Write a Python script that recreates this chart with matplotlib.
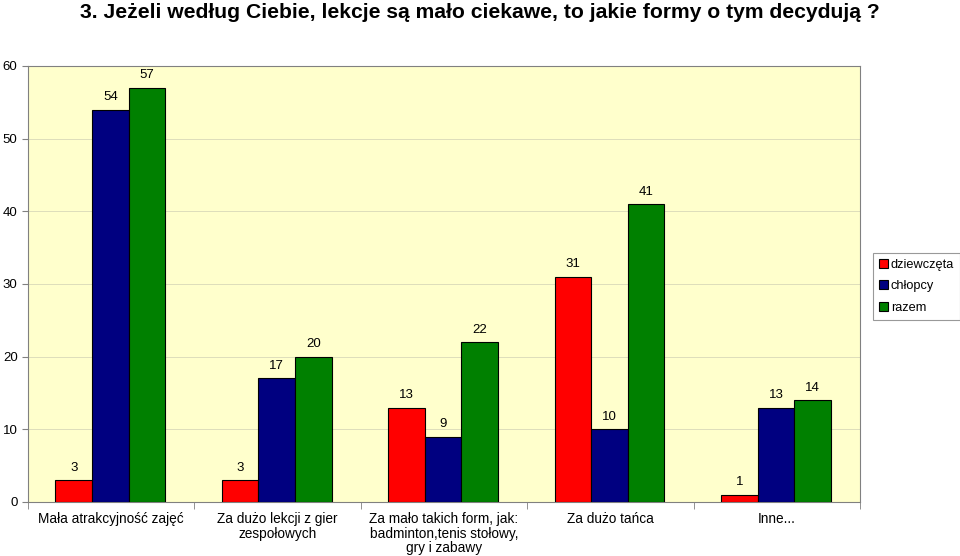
import matplotlib
matplotlib.use("Agg")
import matplotlib.pyplot as plt
import numpy as np

categories = ["Mała atrakcyjność zajęć", "Za dużo lekcji z gier\nzespołowych",
              "Za mało takich form, jak:\nbadminton,tenis stołowy,\ngry i zabawy",
              "Za dużo tańca", "Inne..."]
series_names = ["dziewczęta", "chłopcy", "razem"]
dziewczeta = [3, 3, 13, 31, 1]
chlopcy = [54, 17, 9, 10, 13]
razem = [57, 20, 22, 41, 14]
colors = ["#FF0000", "#000080", "#008000"]

plt.rcParams['font.family'] = ['Liberation Sans', 'DejaVu Sans']

fig = plt.figure(figsize=(9.6, 5.56), dpi=100)
ax = fig.add_axes([28/960, 1-502/556, (860-28)/960, (502-66)/556])
ax.set_facecolor("#FFFFCC")

x = np.arange(len(categories))
w = 0.22
for i, (vals, name, c) in enumerate(zip([dziewczeta, chlopcy, razem], series_names, colors)):
    pos = x + (i - 1) * w - 0.005
    ax.bar(pos, vals, w, color=c, edgecolor="black", linewidth=0.8, label=name, zorder=3)
    for p, v in zip(pos, vals):
        ax.text(p, v + 0.9, str(v), ha="center", va="bottom", fontsize=9.5)

ax.set_xlim(-0.5, len(categories) - 0.5)
ax.set_ylim(0, 60)
ax.set_yticks(range(0, 61, 10))
ax.yaxis.grid(True, color="#D8D8B8", linewidth=0.6, zorder=0)
ax.set_axisbelow(True)
ax.tick_params(axis="y", labelsize=9.5, direction="out", length=4, color="#808080")
ax.set_xticks(x)
ax.set_xticklabels(categories, fontsize=9.8, linespacing=1.08, va="top")
ax.tick_params(axis="x", length=0, pad=7)
ax.set_xticks(np.arange(-0.5, len(categories), 1), minor=True)
ax.tick_params(axis="x", which="minor", length=5, direction="out", color="#808080")
for s in ["top", "right", "left", "bottom"]:
    ax.spines[s].set_color("#808080")

leg = ax.legend(loc="upper left", bbox_to_anchor=(873/960, 1-253/556), bbox_transform=fig.transFigure,
                fontsize=9.2, frameon=True, fancybox=False, edgecolor="#808080", borderaxespad=0,
                handlelength=0.7, handleheight=0.7, handletextpad=0.25, borderpad=0.45, labelspacing=0.75)
leg.get_frame().set_linewidth(0.8)

fig.text(0.5, 1 - 12/556, "3. Jeżeli według Ciebie, lekcje są mało ciekawe, to jakie formy o tym decydują ?",
         ha="center", va="center", fontsize=15.2, fontweight="bold")

fig.savefig("out.png", dpi=100)
